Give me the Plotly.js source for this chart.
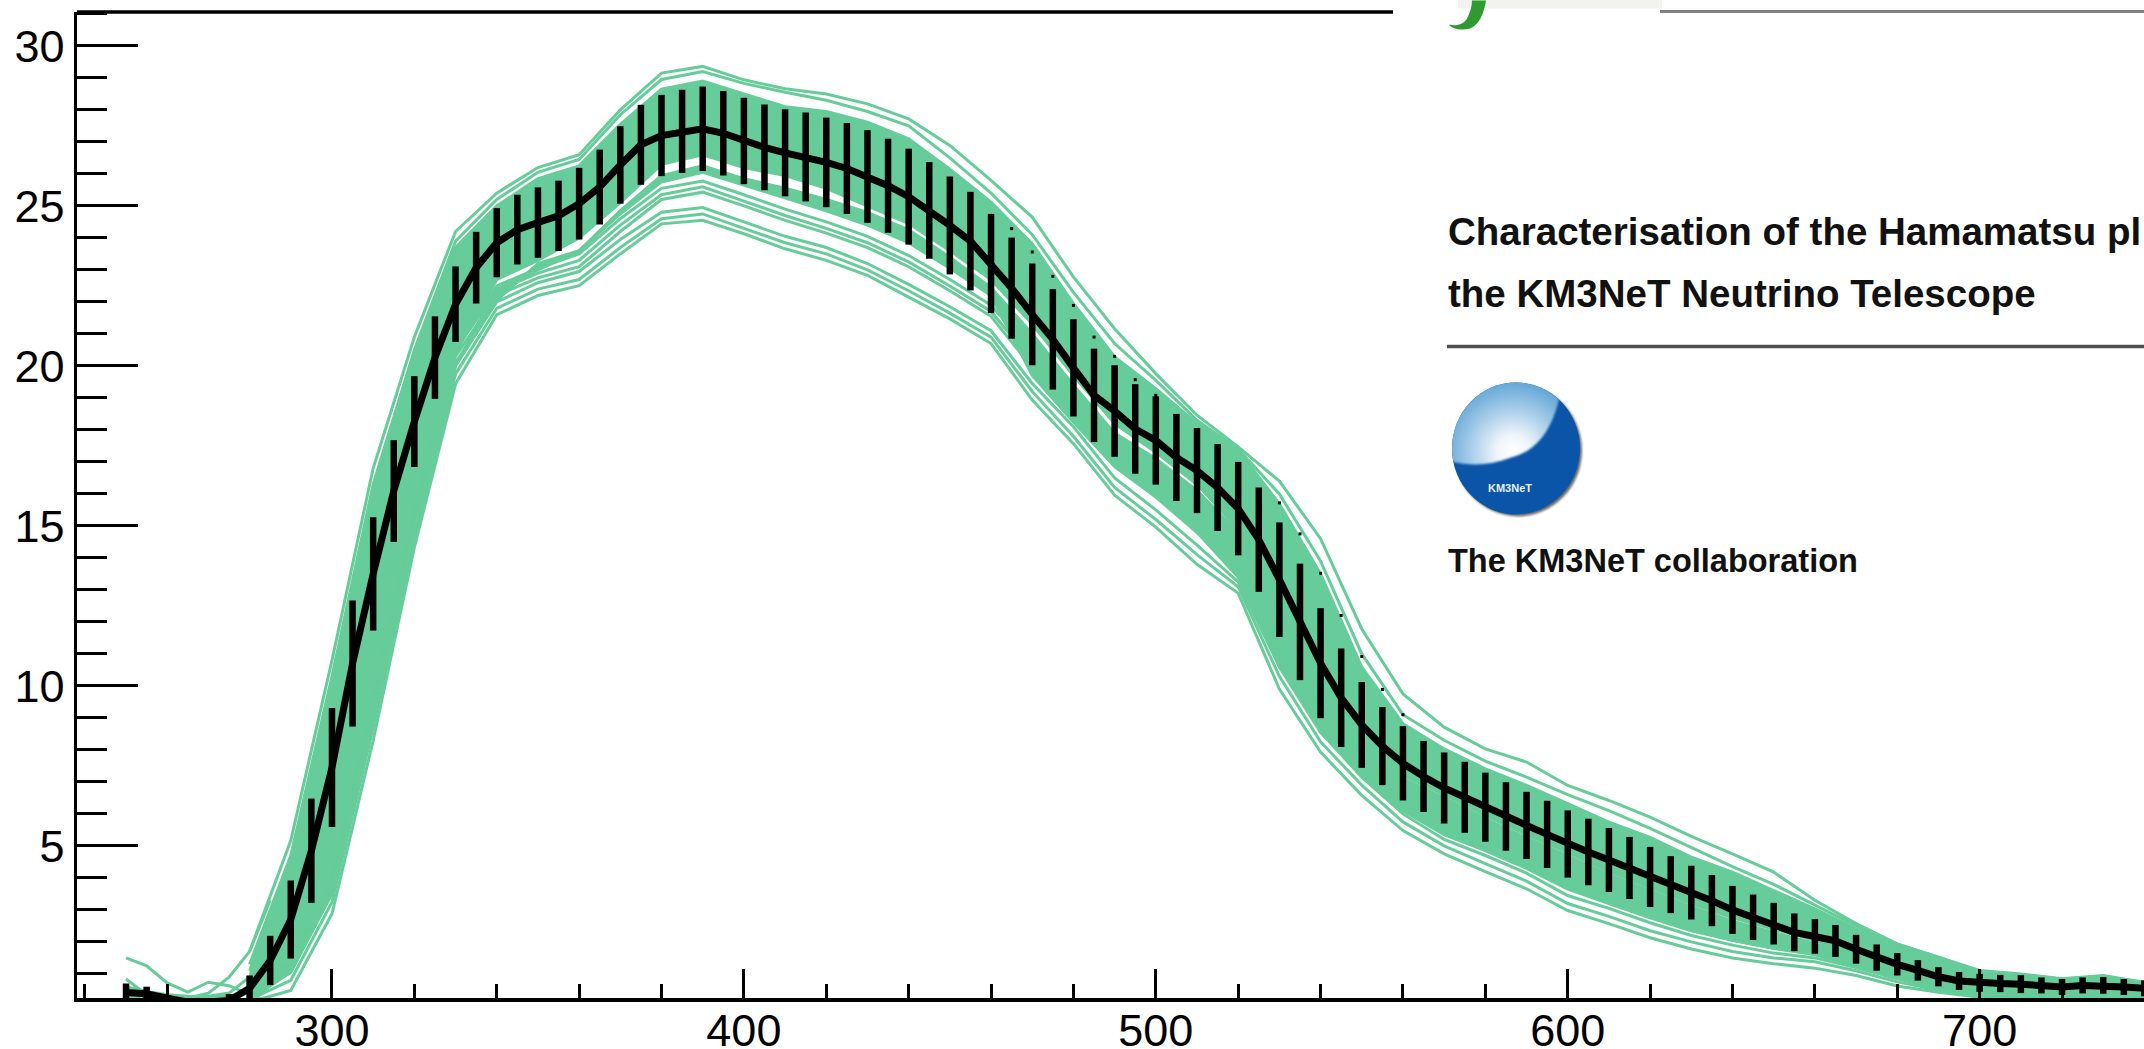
<!DOCTYPE html>
<html>
<head>
<meta charset="utf-8">
<script src="https://cdn.plot.ly/plotly-3.0.1.min.js"></script>
<style>html,body{margin:0;padding:0;background:#fff;overflow:hidden}#c{width:2144px;height:1049px}</style>
</head>
<body>
<div id="c"></div>
<script>
// mean curve, 5 nm bins
const meanX = [250,255,260,265,270,275,280,285,290,295,300,305,310,315,320,325,330,335,340,345,350,355,360,365,370,375,380,385,390,395,400,405,410,415,420,425,430,435,440,445,450,455,460,465,470,475,480,485,490,495,500,505,510,515,520,525,530,535,540,545,550,555,560,565,570,575,580,585,590,595,600,605,610,615,620,625,630,635,640,645,650,655,660,665,670,675,680,685,690,695,700,705,710,715,720,725,730,735,740,745];
const meanY = [0.42,0.38,0.24,0.12,0.12,0.17,0.55,1.42,2.7,4.85,7.45,10.7,13.5,16.09,18.26,20.26,21.93,23.07,23.85,24.26,24.48,24.69,25.07,25.59,26.28,26.91,27.2,27.33,27.41,27.27,27.03,26.83,26.66,26.53,26.36,26.17,25.92,25.63,25.29,24.86,24.39,23.9,23.2,22.43,21.61,20.83,19.94,19.08,18.59,18.03,17.67,17.14,16.73,16.2,15.54,14.57,13.32,12.0,10.71,9.63,8.78,8.12,7.58,7.17,6.81,6.52,6.21,5.92,5.64,5.36,5.06,4.81,4.56,4.31,4.03,3.79,3.54,3.29,3.0,2.77,2.57,2.3,2.17,2.03,1.77,1.51,1.3,1.11,0.91,0.78,0.72,0.7,0.68,0.64,0.59,0.64,0.64,0.59,0.55,0.55];
const meanErr = [0.28,0.22,0.1,0,0,0.2,0.4,0.77,1.22,1.63,1.86,1.97,1.77,1.59,1.42,1.29,1.18,1.12,1.08,1.09,1.1,1.1,1.12,1.17,1.21,1.25,1.27,1.3,1.32,1.32,1.35,1.34,1.36,1.39,1.4,1.42,1.45,1.47,1.5,1.51,1.53,1.54,1.55,1.58,1.59,1.57,1.52,1.46,1.43,1.4,1.38,1.36,1.33,1.36,1.46,1.63,1.79,1.82,1.72,1.54,1.34,1.22,1.16,1.11,1.11,1.11,1.08,1.07,1.05,1.05,1.05,1.04,1.0,0.97,0.94,0.89,0.84,0.8,0.75,0.71,0.65,0.59,0.54,0.5,0.45,0.41,0.35,0.32,0.3,0.28,0.28,0.27,0.28,0.25,0.25,0.25,0.26,0.25,0.25,0.25];

// individual tubes, 10 nm steps
const tubeX = [280,290,300,310,320,330,340,350,360,370,380,390,400,410,420,430,440,450,460,470,480,490,500,510,520,530,540,550,560,570,580,590,600,610,620,630,640,650,660,670,680,690,700,710,720,730,740,750];
const tubeU1 = [1.7,5.17,10.8,16.8,20.9,24.2,25.4,26.2,26.6,28.0,29.15,29.36,28.94,28.66,28.5,28.19,27.72,26.89,25.8,24.65,22.78,21.16,19.76,18.46,17.47,16.4,14.6,11.78,9.75,8.71,8.03,7.62,6.89,6.42,5.9,5.3,4.75,4.18,3.3,2.57,1.94,1.52,1.11,1.0,0.85,0.95,0.74,0.7];
const tubeU2 = [1.3,4.7,10.3,16.3,20.5,23.9,25.2,26.05,26.45,27.85,28.95,29.2,28.83,28.55,28.3,27.95,27.5,26.5,25.4,24.1,22.3,20.7,19.55,18.3,17.4,16.0,13.9,11.0,9.1,8.3,7.65,7.15,6.6,6.1,5.55,4.95,4.35,3.8,3.15,2.5,1.93,1.5,1.08,0.97,0.84,0.93,0.72,0.68];
const bandAtop = [1.1,4.55,10.1,16.1,20.3,23.7,25.0,25.85,26.25,27.55,28.65,28.9,28.5,28.1,27.95,27.62,27.1,26.15,25.12,23.82,21.95,20.28,19.29,18.2,17.36,15.69,13.5,10.59,8.82,8.03,7.41,6.89,6.32,5.74,5.27,4.65,4.18,3.61,3.03,2.41,1.92,1.52,1.05,0.95,0.83,0.92,0.71,0.67];
const bandAbot = [0.3,1.4,3.9,9.5,15.3,20.4,22.7,23.3,24.0,25.1,26.3,26.6,26.2,25.95,25.55,25.0,24.45,23.6,22.7,21.3,19.7,18.2,17.3,16.3,14.9,11.5,9.9,8.3,7.2,6.6,5.95,5.35,4.8,4.2,3.7,3.2,2.75,2.4,2.05,1.55,1.1,0.8,0.6,0.58,0.55,0.55,0.5,0.5];
const bandBtop = [0.25,1.2,3.7,9.3,15.1,20.0,22.4,23.0,23.6,24.85,25.95,26.25,25.85,25.55,25.2,24.8,24.25,23.4,22.45,21.0,19.4,17.9,17.1,16.1,14.8,11.4,9.8,8.2,7.1,6.5,5.85,5.25,4.7,4.1,3.6,3.1,2.65,2.3,1.95,1.5,1.05,0.75,0.55,0.5,0.48,0.48,0.46,0.45];
const bandBbot = [0.2,1.05,3.5,9.0,15.0,20.1,22.05,23.2,23.6,24.75,25.75,26.05,25.65,25.25,24.85,24.4,23.85,23.05,22.2,19.7,18.25,16.85,15.9,14.8,13.5,10.6,8.6,7.2,6.1,5.35,4.85,4.3,3.65,3.2,2.75,2.35,2.05,1.8,1.6,1.25,0.9,0.6,0.42,0.38,0.36,0.37,0.35,0.34];
const tubeM2 = [0.28,1.35,3.85,9.45,15.25,20.6,22.5,23.05,23.5,24.6,25.55,25.78,25.35,24.9,24.5,24.05,23.45,22.7,21.9,20.4,19.0,17.4,16.4,15.25,14.0,11.15,9.3,7.8,6.65,5.85,5.35,4.8,4.15,3.7,3.2,2.75,2.4,2.1,1.85,1.45,1.02,0.68,0.42,0.36,0.34,0.35,0.33,0.32];
const tubeM3 = [0.27,1.3,3.8,9.4,15.2,20.5,22.35,22.9,23.3,24.4,25.35,25.6,25.15,24.7,24.3,23.85,23.25,22.5,21.7,20.15,18.8,17.2,16.2,15.0,13.7,11.0,9.05,7.6,6.45,5.65,5.15,4.6,3.95,3.5,3.0,2.6,2.25,1.95,1.75,1.4,1.0,0.65,0.4,0.34,0.32,0.33,0.31,0.3];
const tubeM4 = [0.25,1.2,3.7,9.3,15.1,20.3,22.2,22.75,23.1,24.2,25.2,25.43,25.0,24.55,24.15,23.7,23.1,22.35,21.55,19.95,18.6,17.0,16.0,14.8,13.4,10.9,8.85,7.4,6.25,5.45,4.95,4.4,3.7,3.25,2.8,2.4,2.05,1.8,1.62,1.3,0.95,0.6,0.38,0.32,0.3,0.31,0.29,0.28];
const tubeL3 = [0.22,1.05,3.55,9.0,14.95,20.0,22.0,22.6,22.95,23.95,24.8,24.95,24.5,24.05,23.7,23.2,22.55,21.85,21.1,19.45,18.1,16.5,15.5,14.4,13.25,10.6,8.55,7.15,6.0,5.2,4.7,4.15,3.45,3.05,2.6,2.2,1.9,1.65,1.5,1.2,0.85,0.55,0.35,0.3,0.28,0.3,0.28,0.27];
const tubeL2 = [0.2,0.8,3.25,8.7,14.65,19.75,21.8,22.4,22.7,23.7,24.6,24.75,24.3,23.85,23.5,23.0,22.35,21.65,20.9,19.2,17.8,16.2,15.2,14.1,13.1,10.3,8.25,6.9,5.75,5.0,4.45,3.9,3.2,2.8,2.35,2.0,1.7,1.5,1.38,1.1,0.75,0.5,0.32,0.28,0.27,0.28,0.26,0.25];
const tubeL1 = [0.12,0.48,2.88,8.3,14.33,19.44,21.6,22.2,22.51,23.5,24.44,24.55,24.13,23.66,23.3,22.83,22.15,21.47,20.7,18.93,17.57,15.96,14.96,13.8,12.9,9.9,7.93,6.58,5.48,4.75,4.2,3.66,2.98,2.57,2.13,1.78,1.5,1.32,1.18,0.95,0.62,0.43,0.27,0.22,0.22,0.23,0.22,0.2];

// short-wavelength tails, 5 nm steps
const tailX = [250,255,260,265,270,275,280,285];
const tailA = [1.5,1.25,0.72,0.43,0.74,0.63,0.35,0.1];
const tailB = [0.84,0.35,0.28,0.25,0.4,0.9,1.7,3.3];
const tailC = [0.6,0.45,0.35,0.3,0.28,0.3,0.4,0.7];
const tailD = [0.3,0.28,0.27,0.27,0.3,0.4,0.9,2.5];

// specks left of the band's upper edge
const speckX = [465,470,475,480,485,490,495,500,530,535,540,545,550,555,560,700];
const speckY = [24.29,23.56,22.8,21.89,20.9,20.3,19.57,19.08,15.72,14.75,13.52,12.2,10.92,9.89,9.1,1.1];

const xTick = [300,400,500,600,700];
const yTick = [5,10,15,20,25,30];

const paperTitle1 = "Characterisation of the Hamamatsu pl";
const paperTitle2 = "the KM3NeT Neutrino Telescope";
const paperAuthor = "The KM3NeT collaboration";
const logoWord = "KM3NeT";

const GREEN = '#66cc99';
const L = 77, B = 997.7, T = 11.5, W = 2144, H = 1049;
const xp = p => (p - L) / (W - L);
const yp = p => (B - p) / (B - T);

const traces = [];
function band(top, bot) {
  traces.push({x: tubeX, y: bot, mode: 'lines', line: {color: GREEN, width: 3}, hoverinfo: 'skip'});
  traces.push({x: tubeX, y: top, mode: 'lines', line: {color: GREEN, width: 3}, fill: 'tonexty', fillcolor: GREEN, hoverinfo: 'skip'});
}
band(bandAtop, bandAbot);
band(bandBtop, bandBbot);
[tubeU1, tubeU2, tubeM2, tubeM3, tubeM4, tubeL3, tubeL2, tubeL1].forEach(y =>
  traces.push({x: tubeX, y, mode: 'lines', line: {color: GREEN, width: 3}, hoverinfo: 'skip'}));
[tailA, tailB, tailC, tailD].forEach(y =>
  traces.push({x: tailX, y, mode: 'lines', line: {color: GREEN, width: 3}, hoverinfo: 'skip'}));
traces.push({x: speckX, y: speckY, mode: 'markers', marker: {color: '#000', size: 3, symbol: 'square'}, hoverinfo: 'skip'});
traces.push({x: meanX, y: meanY, mode: 'lines', line: {color: '#000', width: 7},
  error_y: {type: 'data', array: meanErr, visible: true, color: '#000', thickness: 6.5, width: 0}, hoverinfo: 'skip'});

const logoSvg = '<svg xmlns="http://www.w3.org/2000/svg" width="136" height="140" viewBox="-3 -3 136 140">' +
  '<defs><radialGradient id="g" gradientUnits="userSpaceOnUse" cx="62" cy="70" r="80">' +
  '<stop offset="0" stop-color="#ffffff"/><stop offset="0.2" stop-color="#f0f6fb"/><stop offset="0.55" stop-color="#a3cbe8"/><stop offset="1" stop-color="#4a97d0"/></radialGradient>' +
  '<clipPath id="c"><ellipse cx="65" cy="67" rx="64" ry="66"/></clipPath>' +
  '<filter id="f"><feGaussianBlur stdDeviation="1"/></filter></defs>' +
  '<ellipse cx="67" cy="69" rx="64" ry="66" fill="#3a3a3a" fill-opacity="0.75" filter="url(#f)"/>' +
  '<ellipse cx="65" cy="67" rx="64" ry="66" fill="#0a55a8"/>' +
  '<g clip-path="url(#c)"><path d="M108 18 C100 50 85 70 60 76 C40 84 20 85 0 80 L-5 -5 L108 -5 Z" fill="url(#g)" filter="url(#f)"/></g></svg>';

const jPath = [[1472,0],[1478,0],[1482,0],[1486,0],[1484,12],[1480,24],[1470,28],[1462,30],[1452,29],[1449,24],[1456,26],[1464,24],[1467,18],[1470,12],[1472,6],[1472,0]];
function pathFromPx(pts) {
  let s = 'M' + xp(pts[0][0]) + ',' + yp(pts[0][1]);
  for (let i = 1; i < pts.length; i += 3) {
    s += ' C' + [0,1,2].map(k => xp(pts[i+k][0]) + ',' + yp(pts[i+k][1])).join(' ');
  }
  return s + ' Z';
}
const note = (text, px, py, size, extra) => Object.assign({
  text, xref: 'paper', yref: 'paper', x: xp(px), y: yp(py), xanchor: 'left', yanchor: 'middle',
  showarrow: false, borderpad: 0, align: 'left',
  font: {family: '"Liberation Sans", Arial, sans-serif', size, color: '#111'}
}, extra || {});

const layout = {
  width: W, height: H, autosize: false,
  paper_bgcolor: '#fff', plot_bgcolor: '#fff', showlegend: false,
  margin: {l: L, r: 0, t: T, b: H - B, pad: 0},
  font: {family: '"Liberation Sans", Arial, sans-serif', color: '#000'},
  xaxis: {
    range: [238.1, 739.9], showgrid: false, zeroline: false, showline: true, linecolor: '#000', linewidth: 3.5,
    tickmode: 'array', tickvals: xTick, ticktext: xTick.map(String),
    ticks: 'inside', ticklen: 29, tickwidth: 3, tickcolor: '#000', ticklabelstandoff: -10,
    tickfont: {size: 45, color: '#000', family: '"Liberation Sans", Arial, sans-serif'},
    minor: {dtick: 20, tick0: 0, ticks: 'inside', ticklen: 14, tickwidth: 3, tickcolor: '#000', showgrid: false}
  },
  yaxis: {
    range: [0.247, 31.06], showgrid: false, zeroline: false, showline: true, linecolor: '#000', linewidth: 3.5,
    tickmode: 'array', tickvals: yTick, ticktext: yTick.map(String),
    ticks: 'inside', ticklen: 61, tickwidth: 3, tickcolor: '#000', ticklabelstandoff: 0,
    tickfont: {size: 45, color: '#000', family: '"Liberation Sans", Arial, sans-serif'},
    minor: {dtick: 1, tick0: 0, ticks: 'inside', ticklen: 30, tickwidth: 3, tickcolor: '#000', showgrid: false}
  },
  shapes: [
    {type: 'line', xref: 'paper', yref: 'paper', x0: 0, x1: xp(1393), y0: 1, y1: 1, line: {color: '#000', width: 3.5}},
    {type: 'rect', xref: 'paper', yref: 'paper', x0: xp(1458), x1: xp(1662), y0: yp(8), y1: yp(-2), fillcolor: '#f2f2ef', line: {width: 0}},
    {type: 'path', xref: 'paper', yref: 'paper', path: pathFromPx(jPath), fillcolor: '#2f9a2f', line: {width: 0}},
    {type: 'line', xref: 'paper', yref: 'paper', x0: xp(1660), x1: 1, y0: yp(11), y1: yp(11), line: {color: '#808080', width: 3}},
    {type: 'line', xref: 'paper', yref: 'paper', x0: xp(1447), x1: 1, y0: yp(346), y1: yp(346), line: {color: '#505050', width: 3.5}}
  ],
  images: [{
    source: 'data:image/svg+xml;charset=utf-8,' + encodeURIComponent(logoSvg),
    xref: 'paper', yref: 'paper', x: xp(1448), y: yp(378), sizex: 136 / (W - L), sizey: 140 / (B - T),
    xanchor: 'left', yanchor: 'top', sizing: 'stretch', layer: 'above'
  }],
  annotations: [
    note('<b>' + paperTitle1 + '</b>', 1447, 231, 38.5),
    note('<b>' + paperTitle2 + '</b>', 1447, 293, 38.5),
    note('<b>' + paperAuthor + '</b>', 1447, 561, 32.5),
    note('<b>' + logoWord + '</b>', 1487, 488, 11, {font: {family: '"Liberation Sans", Arial, sans-serif', size: 11, color: '#e8eef8'}})
  ]
};
Plotly.newPlot('c', traces, layout, {displayModeBar: false, staticPlot: true});
</script>
</body>
</html>
